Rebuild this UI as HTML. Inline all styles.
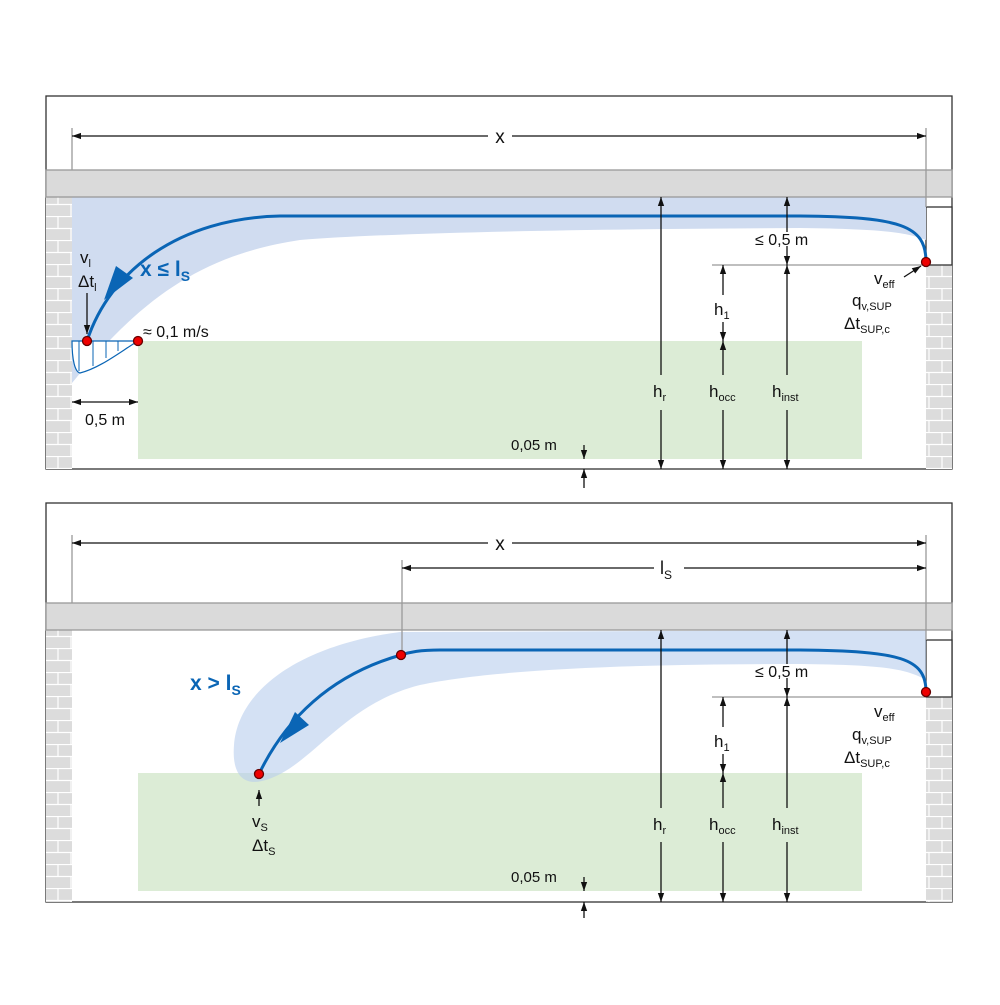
<!DOCTYPE html>
<html><head><meta charset="utf-8"><style>
body{margin:0;background:#fff}
svg text{font-family:"Liberation Sans",sans-serif;fill:#111}
</style></head><body>
<svg width="1000" height="1000" viewBox="0 0 1000 1000" xmlns="http://www.w3.org/2000/svg">
<defs>
<pattern id="brick" x="0" y="0" width="26" height="24" patternUnits="userSpaceOnUse">
<rect width="26" height="24" fill="#dcdcdc"/>
<path d="M0 0.5H26M0 12.5H26M6 0V12M19 12V24" stroke="#fff" stroke-width="1.2" fill="none"/>
</pattern>
<marker id="ar" viewBox="0 0 10 10" refX="10" refY="5" markerWidth="9" markerHeight="9" orient="auto-start-reverse" markerUnits="userSpaceOnUse">
<path d="M0 1.5L10 5L0 8.5z" fill="#111"/></marker>
</defs>
<g stroke-width="1.3">
<!-- TOP PANEL -->
<rect x="46" y="96" width="906" height="373" fill="#fff" stroke="#333"/>
<rect x="138" y="341" width="724" height="118" fill="#dcecd6"/>
<rect x="46" y="197" width="26" height="272" fill="url(#brick)"/>
<rect x="926" y="265" width="26" height="204" fill="url(#brick)"/>
<rect x="926" y="207" width="26" height="58" fill="#fff" stroke="#333"/>
<path d="M72 197H926V240C905 232 880 229 800 228C600 229 400 232 300 240C200 255 140 300 72 383Z" fill="#d0dcf0"/>
<rect x="46" y="170" width="906" height="27" fill="#dadada" stroke="#999"/>
<line x1="72" y1="128" x2="72" y2="170" stroke="#999"/>
<line x1="926" y1="128" x2="926" y2="207" stroke="#999"/>
<line x1="72" y1="136" x2="488" y2="136" stroke="#111" marker-start="url(#ar)"/>
<line x1="512" y1="136" x2="926" y2="136" stroke="#111" marker-end="url(#ar)"/>
<text x="500" y="143" font-size="19" text-anchor="middle">x</text>
<!-- jet -->
<path d="M926 262C926 225 900 217 800 216L280 216C180 218 110 270 87 341" fill="none" stroke="#0a65b5" stroke-width="3"/>
<path d="M116 266L133 278L104 300z" fill="#0a65b5"/>
<text x="140" y="276" font-size="21" font-weight="bold" style="fill:#0a65b5">x ≤ l<tspan font-size="14" dy="5">S</tspan></text>
<!-- profile -->
<path d="M72 341H138C120 352 100 368 80 373C75 372 72 360 72 341Z" fill="#fff" stroke="#0a65b5" stroke-width="1.2"/>
<g stroke="#0a65b5" stroke-width="1">
<line x1="79" y1="341" x2="79" y2="371"/><line x1="93" y1="341" x2="93" y2="366"/><line x1="106" y1="341" x2="106" y2="358"/><line x1="118" y1="341" x2="118" y2="351"/></g>
<circle cx="87" cy="341" r="4.5" fill="#e00" stroke="#600"/>
<circle cx="138" cy="341" r="4.5" fill="#e00" stroke="#600"/>
<line x1="87" y1="293" x2="87" y2="334" stroke="#111" marker-end="url(#ar)"/>
<text x="80" y="263" font-size="17">v<tspan font-size="11" dy="4">l</tspan></text>
<text x="78" y="287" font-size="17">Δt<tspan font-size="11" dy="4">l</tspan></text>
<text x="143" y="337" font-size="16">≈ 0,1 m/s</text>
<line x1="72" y1="402" x2="138" y2="402" stroke="#111" marker-start="url(#ar)" marker-end="url(#ar)"/>
<text x="105" y="425" font-size="16" text-anchor="middle">0,5 m</text>
<!-- dims -->
<line x1="712" y1="265" x2="926" y2="265" stroke="#999"/>
<line x1="661" y1="197" x2="661" y2="375" stroke="#111" marker-start="url(#ar)"/>
<line x1="661" y1="410" x2="661" y2="469" stroke="#111" marker-end="url(#ar)"/>
<text x="653" y="397" font-size="17">h<tspan font-size="11" dy="4">r</tspan></text>
<line x1="723" y1="265" x2="723" y2="295" stroke="#111" marker-start="url(#ar)"/>
<line x1="723" y1="322" x2="723" y2="341" stroke="#111" marker-end="url(#ar)"/>
<text x="714" y="315" font-size="17">h<tspan font-size="11" dy="4">1</tspan></text>
<line x1="723" y1="341" x2="723" y2="375" stroke="#111" marker-start="url(#ar)"/>
<line x1="723" y1="410" x2="723" y2="469" stroke="#111" marker-end="url(#ar)"/>
<text x="709" y="397" font-size="17">h<tspan font-size="11" dy="4">occ</tspan></text>
<line x1="787" y1="197" x2="787" y2="232" stroke="#111" marker-start="url(#ar)"/>
<line x1="787" y1="246" x2="787" y2="265" stroke="#111" marker-end="url(#ar)"/>
<text x="755" y="245" font-size="16">≤ 0,5 m</text>
<line x1="787" y1="265" x2="787" y2="375" stroke="#111" marker-start="url(#ar)"/>
<line x1="787" y1="410" x2="787" y2="469" stroke="#111" marker-end="url(#ar)"/>
<text x="772" y="397" font-size="17">h<tspan font-size="11" dy="4">inst</tspan></text>
<circle cx="926" cy="262" r="4.5" fill="#e00" stroke="#600"/>
<line x1="904" y1="277" x2="921" y2="266" stroke="#111" marker-end="url(#ar)"/>
<text x="874" y="284" font-size="17">v<tspan font-size="11" dy="4">eff</tspan></text>
<text x="852" y="306" font-size="17">q<tspan font-size="11" dy="4">v,SUP</tspan></text>
<text x="844" y="329" font-size="17">Δt<tspan font-size="11" dy="4">SUP,c</tspan></text>
<line x1="584" y1="445" x2="584" y2="459" stroke="#111" marker-end="url(#ar)"/>
<line x1="584" y1="488" x2="584" y2="469" stroke="#111" marker-end="url(#ar)"/>
<text x="511" y="450" font-size="15">0,05 m</text>

<!-- BOTTOM PANEL -->
<rect x="46" y="503" width="906" height="399" fill="#fff" stroke="#333"/>
<rect x="138" y="773" width="724" height="118" fill="#dcecd6"/>
<rect x="46" y="630" width="26" height="272" fill="url(#brick)"/>
<rect x="926" y="697" width="26" height="205" fill="url(#brick)"/>
<rect x="926" y="640" width="26" height="57" fill="#fff" stroke="#333"/>
<path d="M926 630V680C905 668 880 665 800 664C650 664 500 668 420 685C340 705 310 770 262 781C240 786 232 770 234 745C238 690 300 645 400 632Z" fill="#b8cdec" opacity="0.6"/>
<rect x="46" y="603" width="906" height="27" fill="#dadada" stroke="#999"/>
<line x1="72" y1="535" x2="72" y2="603" stroke="#999"/>
<line x1="926" y1="535" x2="926" y2="640" stroke="#999"/>
<line x1="402" y1="560" x2="402" y2="655" stroke="#999"/>
<line x1="72" y1="543" x2="488" y2="543" stroke="#111" marker-start="url(#ar)"/>
<line x1="512" y1="543" x2="926" y2="543" stroke="#111" marker-end="url(#ar)"/>
<text x="500" y="550" font-size="19" text-anchor="middle">x</text>
<line x1="402" y1="568" x2="654" y2="568" stroke="#111" marker-start="url(#ar)"/>
<line x1="684" y1="568" x2="926" y2="568" stroke="#111" marker-end="url(#ar)"/>
<text x="660" y="574" font-size="18">l<tspan font-size="12" dy="5">S</tspan></text>
<path d="M926 692C926 658 900 651 800 650L440 650C420 650 410 652 401 655C330 675 285 720 259 774" fill="none" stroke="#0a65b5" stroke-width="3"/>
<path d="M295 712L309 725L280 743z" fill="#0a65b5"/>
<text x="190" y="690" font-size="21" font-weight="bold" style="fill:#0a65b5">x &gt; l<tspan font-size="14" dy="5">S</tspan></text>
<circle cx="401" cy="655" r="4.5" fill="#e00" stroke="#600"/>
<circle cx="259" cy="774" r="4.5" fill="#e00" stroke="#600"/>
<line x1="259" y1="806" x2="259" y2="790" stroke="#111" marker-end="url(#ar)"/>
<text x="252" y="827" font-size="17">v<tspan font-size="11" dy="4">S</tspan></text>
<text x="252" y="851" font-size="17">Δt<tspan font-size="11" dy="4">S</tspan></text>
<line x1="712" y1="697" x2="926" y2="697" stroke="#999"/>
<line x1="661" y1="630" x2="661" y2="808" stroke="#111" marker-start="url(#ar)"/>
<line x1="661" y1="842" x2="661" y2="902" stroke="#111" marker-end="url(#ar)"/>
<text x="653" y="830" font-size="17">h<tspan font-size="11" dy="4">r</tspan></text>
<line x1="723" y1="697" x2="723" y2="727" stroke="#111" marker-start="url(#ar)"/>
<line x1="723" y1="754" x2="723" y2="773" stroke="#111" marker-end="url(#ar)"/>
<text x="714" y="747" font-size="17">h<tspan font-size="11" dy="4">1</tspan></text>
<line x1="723" y1="773" x2="723" y2="808" stroke="#111" marker-start="url(#ar)"/>
<line x1="723" y1="842" x2="723" y2="902" stroke="#111" marker-end="url(#ar)"/>
<text x="709" y="830" font-size="17">h<tspan font-size="11" dy="4">occ</tspan></text>
<line x1="787" y1="630" x2="787" y2="664" stroke="#111" marker-start="url(#ar)"/>
<line x1="787" y1="678" x2="787" y2="697" stroke="#111" marker-end="url(#ar)"/>
<text x="755" y="677" font-size="16">≤ 0,5 m</text>
<line x1="787" y1="697" x2="787" y2="808" stroke="#111" marker-start="url(#ar)"/>
<line x1="787" y1="842" x2="787" y2="902" stroke="#111" marker-end="url(#ar)"/>
<text x="772" y="830" font-size="17">h<tspan font-size="11" dy="4">inst</tspan></text>
<circle cx="926" cy="692" r="4.5" fill="#e00" stroke="#600"/>
<text x="874" y="717" font-size="17">v<tspan font-size="11" dy="4">eff</tspan></text>
<text x="852" y="740" font-size="17">q<tspan font-size="11" dy="4">v,SUP</tspan></text>
<text x="844" y="763" font-size="17">Δt<tspan font-size="11" dy="4">SUP,c</tspan></text>
<line x1="584" y1="877" x2="584" y2="891" stroke="#111" marker-end="url(#ar)"/>
<line x1="584" y1="918" x2="584" y2="902" stroke="#111" marker-end="url(#ar)"/>
<text x="511" y="882" font-size="15">0,05 m</text>
</g>
</svg>
</body></html>
